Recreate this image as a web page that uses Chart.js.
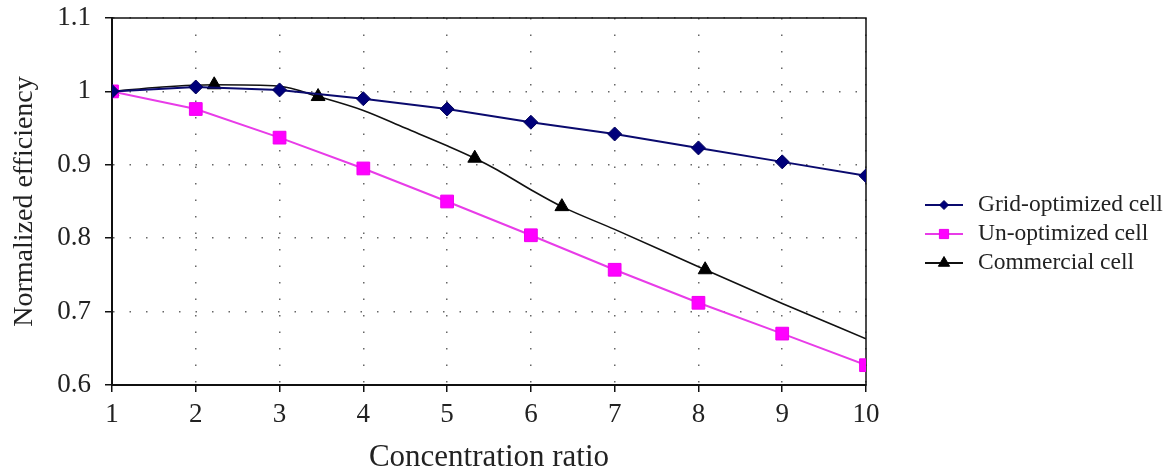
<!DOCTYPE html>
<html>
<head>
<meta charset="utf-8">
<script src="https://cdn.jsdelivr.net/npm/chart.js@4"></script>
<style>
  html, body { margin: 0; padding: 0; background: #fff; }
</style>
</head>
<body>
<canvas id="effChart" width="1171" height="470"></canvas>
<script>
// data ====================================
const ratios = [1, 2, 3, 4, 5, 6, 7, 8, 9, 10];
const gridOptimized = [1.0, 1.006, 1.002, 0.990, 0.976, 0.958, 0.942, 0.923, 0.904, 0.885];
const unOptimized = [1.0, 0.976, 0.937, 0.895, 0.850, 0.804, 0.757, 0.712, 0.670, 0.627];

// commercial cell curve, markers only on some of its points
const commercialX = [1, 1.6, 2.22, 3, 3.46, 4, 4.5, 5, 5.33, 5.6, 6, 6.37, 7, 8.08, 9, 10];
const commercialY = [1.0, 1.006, 1.009, 1.007, 0.993, 0.974, 0.95, 0.926, 0.909, 0.893, 0.866, 0.843, 0.812, 0.757, 0.711, 0.663];
const commercialMarked = [1, 0, 1, 0, 1, 0, 0, 0, 1, 0, 0, 1, 0, 1, 0, 0];

const xTicks = [1, 2, 3, 4, 5, 6, 7, 8, 9, 10];
const yTicks = [0.6, 0.7, 0.8, 0.9, 1, 1.1];

const serif = "'Liberation Serif', 'DejaVu Serif', serif";

// plugins ====================================

// black frame round the plot area
const plotFrame = {
  id: "plotFrame",
  beforeDatasetsDraw(chart) {
    const { ctx, chartArea } = chart;
    ctx.save();
    ctx.strokeStyle = "#111";
    ctx.lineWidth = 1.5;
    ctx.strokeRect(chartArea.left, chartArea.top, chartArea.right - chartArea.left, chartArea.bottom - chartArea.top);
    ctx.restore();
  },
};

// legend on the right: short line with marker, then label
const sideLegend = {
  id: "sideLegend",
  afterDraw(chart) {
    const ctx = chart.ctx;
    chart.data.datasets.forEach((ds, i) => {
      const y = 205 + i * 29;
      ctx.save();
      ctx.strokeStyle = ds.borderColor;
      ctx.lineWidth = 2;
      ctx.beginPath();
      ctx.moveTo(925, y);
      ctx.lineTo(963, y);
      ctx.stroke();
      ctx.fillStyle = ds.pointBackgroundColor;
      ctx.strokeStyle = ds.pointBorderColor;
      ctx.lineWidth = 1;
      Chart.helpers.drawPoint(ctx, { pointStyle: ds.pointStyle, radius: ds.legendRadius, borderWidth: 1 }, 944, y);
      ctx.fillStyle = "#222";
      ctx.font = "23.5px " + serif;
      ctx.textBaseline = "middle";
      ctx.textAlign = "left";
      ctx.fillText(ds.label, 978, y);
      ctx.restore();
    });
  },
};

// chart ====================================
const ctx = document.getElementById("effChart").getContext("2d");
new Chart(ctx, {
  type: "line",
  data: {
    datasets: [
      {
        label: "Grid-optimized cell",
        data: ratios.map((x, i) => ({ x: x, y: gridOptimized[i] })),
        borderColor: "#0a0a6e",
        borderWidth: 2,
        pointStyle: "rectRot",
        pointRadius: 7,
        legendRadius: 4.5,
        pointBackgroundColor: "#00007a",
        pointBorderColor: "#00005a",
        pointBorderWidth: 1,
        tension: 0,
      },
      {
        label: "Un-optimized cell",
        data: ratios.map((x, i) => ({ x: x, y: unOptimized[i] })),
        borderColor: "#e83ce8",
        borderWidth: 2,
        pointStyle: "rect",
        pointRadius: 9,
        legendRadius: 6.5,
        pointBackgroundColor: "#ff00ff",
        pointBorderColor: "#ee00ee",
        pointBorderWidth: 1,
        tension: 0,
      },
      {
        label: "Commercial cell",
        data: commercialX.map((x, i) => ({ x: x, y: commercialY[i] })),
        borderColor: "#111",
        borderWidth: 1.6,
        pointStyle: "triangle",
        pointRadius: commercialMarked.map((m) => (m ? 8 : 0)),
        legendRadius: 6.5,
        pointBackgroundColor: "#000",
        pointBorderColor: "#000",
        pointBorderWidth: 1,
        cubicInterpolationMode: "monotone",
      },
    ],
  },
  options: {
    responsive: false,
    animation: false,
    events: [],
    layout: { padding: { left: 0, right: 305, top: 18, bottom: 0 } },
    plugins: {
      legend: { display: false },
      tooltip: { enabled: false },
    },
    scales: {
      x: {
        type: "linear",
        min: 1,
        max: 10,
        afterFit: (scale) => { scale.height = 85; },
        afterBuildTicks: (scale) => { scale.ticks = xTicks.map((v) => ({ value: v })); },
        ticks: {
          color: "#222",
          font: { family: serif, size: 27 },
          padding: 7,
          maxRotation: 0,
        },
        grid: {
          color: "#666",
          lineWidth: 1.5,
          tickLength: 7,
          tickColor: "#111",
          tickWidth: 1.5,
          tickBorderDash: [],
        },
        border: { color: "#111", width: 2, dash: [1.5, 15] },
        title: {
          display: true,
          text: "Concentration ratio",
          color: "#222",
          font: { family: serif, size: 31, lineHeight: 0.8 },
          padding: { top: 0, bottom: 0 },
        },
      },
      y: {
        min: 0.6,
        max: 1.1,
        afterFit: (scale) => {
          scale.width = 112;
          scale.paddingTop = 0;
          scale.paddingBottom = 0;
        },
        afterBuildTicks: (scale) => { scale.ticks = yTicks.map((v) => ({ value: v })); },
        ticks: {
          color: "#222",
          font: { family: serif, size: 27 },
          padding: 14,
          callback: (v) => String(Number(v.toFixed(1))),
        },
        grid: {
          color: "#666",
          lineWidth: 1.5,
          tickLength: 7,
          tickColor: "#111",
          tickWidth: 1.5,
          tickBorderDash: [],
        },
        border: { color: "#111", width: 2, dash: [1.5, 15] },
        title: {
          display: true,
          text: "Normalized efficiency",
          color: "#222",
          font: { family: serif, size: 28, lineHeight: 1 },
          padding: { top: 11, bottom: 0 },
        },
      },
    },
  },
  plugins: [plotFrame, sideLegend],
});
</script>
</body>
</html>
